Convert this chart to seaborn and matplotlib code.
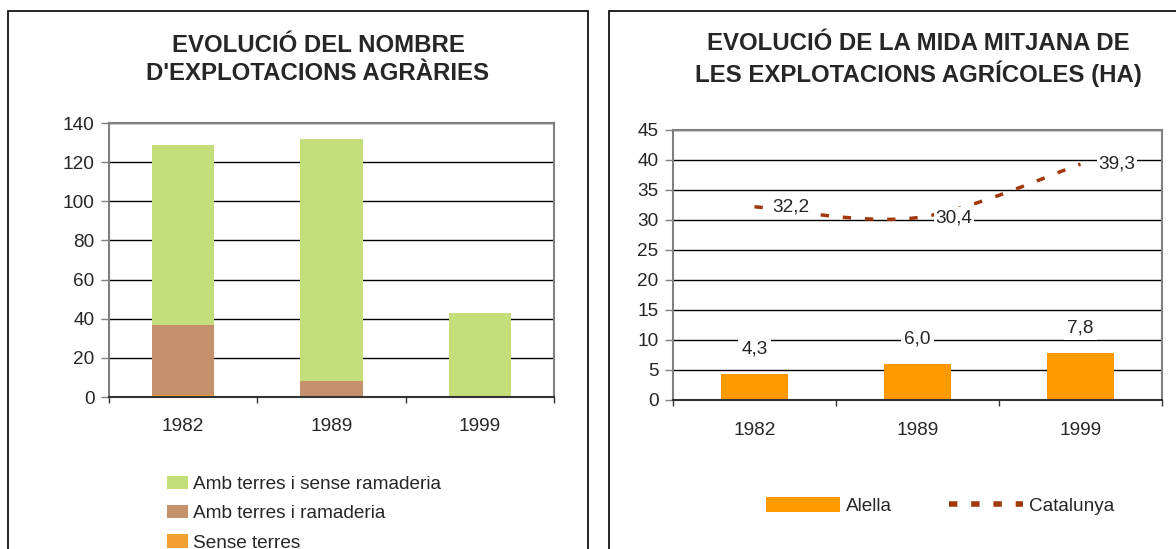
"""Two Excel-style charts: farm counts (stacked bars) and mean farm size (bars + smooth line)."""
import matplotlib
matplotlib.use("Agg")
import matplotlib.pyplot as plt
import seaborn as sns
import numpy as np
from matplotlib.patches import Patch, Rectangle, PathPatch
from matplotlib.lines import Line2D
from matplotlib.path import Path

sns.set_style("white")
plt.rcParams['font.family'] = ['Liberation Sans', 'DejaVu Sans']

# --- data ---
years = ['1982', '1989', '1999']
sense_terres = [1, 0, 0]
amb_ramaderia = [36, 8, 0]
sense_ramaderia = [92, 124, 43]
count_labels = ['Amb terres i sense ramaderia', 'Amb terres i ramaderia', 'Sense terres']

alella = [4.3, 6.0, 7.8]
catalunya = [32.2, 30.4, 39.3]
size_labels = ['Alella', 'Catalunya']

GREEN = '#C3DE7B'
BROWN = '#C6906A'
ORANGE_L = '#F0A030'
ORANGE = '#FF9900'
LINE = '#A0380A'
FS = 13.7

fig = plt.figure(figsize=(11.76, 5.49), dpi=100)
W, H = 1176, 549


def px_axes(x0, y0, x1, y1):
    return fig.add_axes([x0 / W, (H - y1) / H, (x1 - x0) / W, (y1 - y0) / H])


def style_axes(ax, ymax, step, pad_x=15):
    ax.set_ylim(0, ymax)
    ax.set_yticks(np.arange(0, ymax + 1, step))
    ax.set_xlim(-0.5, 2.5)
    ax.set_xticks([-0.5, 0.5, 1.5, 2.5])
    ax.set_xticklabels([])
    ax.set_xticks([0, 1, 2], minor=True)
    ax.set_xticklabels(years, minor=True)
    ax.tick_params(axis='x', which='major', direction='out', length=4.5, width=1, color='#333333', bottom=True)
    ax.tick_params(axis='x', which='minor', length=0, pad=pad_x, labelsize=FS)
    ax.tick_params(axis='y', direction='out', length=5.5, width=1, color='#808080', pad=5, labelsize=FS, left=True)
    ax.yaxis.grid(True, color='black', lw=1)
    ax.set_axisbelow(True)
    for s in ['left', 'top', 'right']:
        ax.spines[s].set_color('#808080')
        ax.spines[s].set_linewidth(1.5)
    ax.spines['bottom'].set_color('#333333')
    ax.spines['bottom'].set_linewidth(1.5)
    ax.set_xlabel('')
    ax.set_ylabel('')


# panel frames
fig.patches.append(Rectangle((8 / W, -0.1), 580 / W, (H - 11) / H + 0.1, transform=fig.transFigure,
                             fill=False, edgecolor='black', lw=1.2))
fig.patches.append(Rectangle((609 / W, -0.1), 600 / W, (H - 11) / H + 0.1, transform=fig.transFigure,
                             fill=False, edgecolor='black', lw=1.2))

# --- left chart: stacked bars (drawn as cumulative layers) ---
ax1 = px_axes(109, 123, 554, 397)
layer1 = np.array(sense_terres)
layer2 = layer1 + np.array(amb_ramaderia)
layer3 = layer2 + np.array(sense_ramaderia)
for vals, col in [(layer3, GREEN), (layer2, BROWN), (layer1, ORANGE_L)]:
    sns.barplot(x=years, y=vals, order=years, color=col, width=0.42, saturation=1, linewidth=0, ax=ax1)
style_axes(ax1, 140, 20)

fig.text(318 / W, (H - 59.5) / H, "EVOLUCIÓ DEL NOMBRE\nD'EXPLOTACIONS AGRÀRIES", ha='center', va='center',
         fontsize=17.3, fontweight='bold', linespacing=1.25)

handles1 = [Patch(facecolor=c, edgecolor='none') for c in [GREEN, BROWN, ORANGE_L]]
fig.legend(handles1, count_labels, loc='upper left', bbox_to_anchor=(167 / W, (H - 476) / H),
           frameon=False, fontsize=FS, handlelength=1.1, handleheight=0.7, handletextpad=0.25,
           labelspacing=0.62, borderpad=0, borderaxespad=0)

# --- right chart: bars + smoothed dashed line ---
ax2 = px_axes(673, 130, 1162, 400)
sns.barplot(x=years, y=alella, order=years, color=ORANGE, width=0.41, saturation=1, linewidth=0, ax=ax2)
style_axes(ax2, 45, 5, pad_x=16)

# smooth curve through the points (Excel-style bezier)
pts = np.column_stack([np.arange(len(catalunya)), catalunya]).astype(float)
ext = np.vstack([pts[0], pts, pts[-1]])
verts = [tuple(pts[0])]
codes = [Path.MOVETO]
for i in range(len(pts) - 1):
    c1 = ext[i + 1] + (ext[i + 2] - ext[i]) / 6
    c2 = ext[i + 2] - (ext[i + 3] - ext[i + 1]) / 6
    verts += [tuple(c1), tuple(c2), tuple(pts[i + 1])]
    codes += [Path.CURVE4] * 3
ax2.add_patch(PathPatch(Path(verts, codes), fill=False, edgecolor=LINE, lw=2.5,
                        linestyle=(0, (2.4, 4)), zorder=3, capstyle='butt'))

fmt = lambda v: f"{v:.1f}".replace('.', ',')
for i, v in enumerate(catalunya):
    ax2.annotate(fmt(v), (i, v), xytext=(13, 0), textcoords='offset points', ha='left', va='center',
                 fontsize=FS, zorder=5, bbox=dict(boxstyle='square,pad=0.1', fc='white', ec='none'))
for i, v in enumerate(alella):
    ax2.annotate(fmt(v), (i, v), xytext=(0, 18), textcoords='offset points', ha='center', va='center',
                 fontsize=FS, zorder=5, bbox=dict(boxstyle='square,pad=0.15', fc='white', ec='none'))

fig.text(918 / W, (H - 59.5) / H, "EVOLUCIÓ DE LA MIDA MITJANA DE\nLES EXPLOTACIONS AGRÍCOLES (HA)", ha='center',
         va='center', fontsize=17.3, fontweight='bold', linespacing=1.25)

handles2 = [Patch(facecolor=ORANGE, edgecolor='none'),
            Line2D([0], [0], color=LINE, lw=4, linestyle=(0, (1.5, 2.5)))]
fig.legend(handles2, size_labels, loc='center', bbox_to_anchor=(940 / W, (H - 506) / H), ncol=2,
           frameon=False, fontsize=FS, handlelength=3.9, handleheight=0.8, handletextpad=0.3,
           columnspacing=3.0, borderpad=0, borderaxespad=0)

fig.savefig('out.png', dpi=100, facecolor='white')
